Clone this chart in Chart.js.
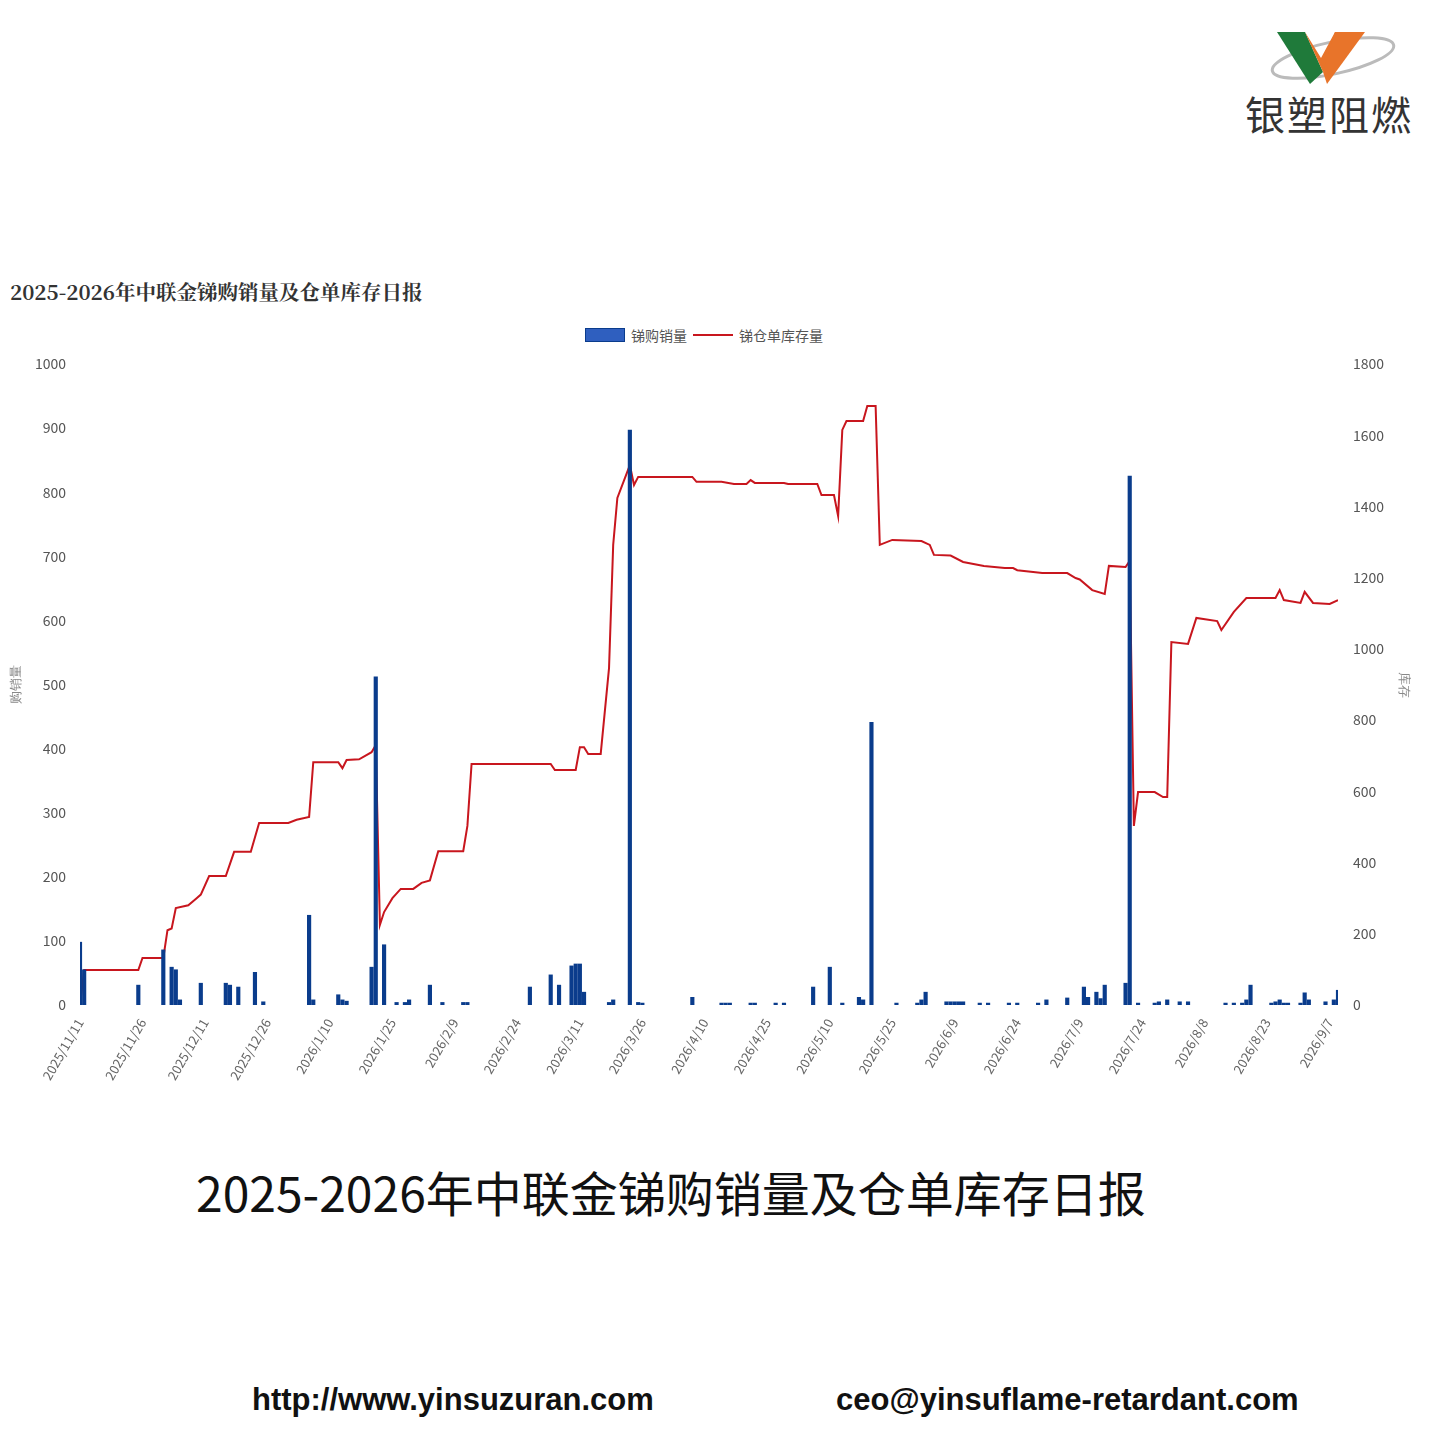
<!DOCTYPE html>
<html><head><meta charset="utf-8">
<script src="https://cdn.jsdelivr.net/npm/chart.js@4/dist/chart.umd.min.js"></script>
<style>
body{margin:0;width:1440px;height:1440px;background:#fff;position:relative;font-family:"Noto Sans CJK SC",sans-serif;overflow:hidden}
#wrap{position:absolute;left:0;top:318px;width:1440px;height:800px}
.t{position:absolute;white-space:nowrap}
</style></head><body>
<svg class="t" style="left:1265px;top:22px" width="135" height="70" viewBox="0 0 135 70">
<ellipse cx="68" cy="36" rx="62" ry="16" fill="none" stroke="#bbb" stroke-width="3" transform="rotate(-12 68 36)"/>
<polygon points="12,10 40,10 58,50 45,62" fill="#1f7a3a"/>
<polygon points="40,10 58,50 90,10 70,10 56,36" fill="#e8742a"/>
<polygon points="70,10 100,10 62,62 58,50" fill="#e8742a"/>
</svg>
<div class="t" style="left:1245px;top:84px;font-size:40px;color:#333;letter-spacing:2px">银塑阻燃</div>
<div class="t" style="left:10px;top:276px;font-size:20.5px;font-weight:bold;color:#333;font-family:'Noto Serif CJK SC','Noto Sans CJK SC',serif">2025-2026年中联金锑购销量及仓单库存日报</div>
<div class="t" style="left:585px;top:325px;font-size:14px;color:#555;display:flex;align-items:center">
 <span style="display:inline-block;width:38px;height:12px;background:#2f5fbf;border:1px solid #0a3c8c;margin-right:6px"></span>锑购销量
 <span style="display:inline-block;width:40px;height:2px;background:#c8161e;margin:0 6px 0 6px"></span>锑仓单库存量</div>
<div class="t" style="left:196px;top:1156px;font-size:48px;color:#111">2025-2026年中联金锑购销量及仓单库存日报</div>
<div class="t" style="left:252px;top:1382px;font-size:31px;font-weight:bold;font-family:'Liberation Sans',Arial;color:#111">http://www.yinsuzuran.com</div>
<div class="t" style="left:836px;top:1382px;font-size:31px;font-weight:bold;font-family:'Liberation Sans',Arial;color:#111">ceo@yinsuflame-retardant.com</div>
<div id="wrap"><canvas id="c" width="1440" height="800"></canvas></div>
<script>
const startDate = [2025,10,11];
const lineDays = [0,1,14,15,20,21,22,23,26,28,29,31,35,37,41,43,50,52,55,56,62,63,64,67,70,71,72,73,75,77,80,82,84,86,92,93,94,113,114,119,120,121,122,125,127,128,129,132,133,134,147,148,154,157,160,161,162,169,170,177,178,181,182,183,184,188,189,191,192,195,202,204,205,209,212,217,222,224,225,231,237,239,240,243,246,247,251,252,253,254,258,260,261,262,266,268,273,274,277,280,287,288,289,293,294,296,300,302];
const lineVals = [0,98,98,132,132,210,215,272,280,300,310,362,362,430,430,511,511,520,528,682,682,665,688,690,710,730,225,261,300,326,326,343,350,432,432,503,677,677,660,660,724,724,705,705,946,1292,1424,1516,1460,1483,1483,1469,1469,1463,1463,1474,1466,1466,1463,1463,1432,1432,1373,1615,1640,1640,1682,1682,1292,1306,1303,1292,1264,1262,1244,1233,1227,1227,1221,1213,1213,1199,1195,1165,1154,1233,1230,1247,503,598,598,584,584,1019,1014,1087,1078,1053,1104,1143,1143,1165,1137,1129,1160,1129,1126,1137];
const barDays = [0,1,14,20,22,23,24,29,35,36,38,42,44,55,56,62,63,64,70,71,73,76,78,79,84,87,92,93,108,113,115,118,119,120,121,127,128,132,134,135,147,154,155,156,161,162,167,169,176,180,183,187,188,190,196,201,202,203,208,209,210,211,212,216,218,223,225,230,232,237,241,242,244,245,246,251,252,254,258,259,261,264,266,275,277,279,280,281,286,287,288,289,290,293,294,295,299,301,302];
const barVals = [98,55,31,86,59,55,8,34,34,31,28,51,5,140,8,16,8,6,59,512,94,4,4,8,31,4,4,4,28,47,31,61,64,64,20,4,8,897,4,3,12,3,3,3,3,3,3,3,28,59,3,12,8,441,3,3,8,20,5,5,5,5,5,3,3,3,3,3,8,11,28,12,20,10,31,34,825,3,3,5,8,5,5,3,3,3,8,31,3,5,8,3,3,3,19,8,5,8,23,8,45,40,4];
const yLeftTicks = [0,100,200,300,400,500,600,700,800,900,1000];
const yRightTicks = [0,200,400,600,800,1000,1200,1400,1600,1800];
function dayLabel(d){const t=new Date(Date.UTC(startDate[0],startDate[1],startDate[2]+d));return t.getUTCFullYear()+'/'+(t.getUTCMonth()+1)+'/'+t.getUTCDate();}
const tickFont={family:"'Noto Sans CJK SC',sans-serif",size:14};
new Chart(document.getElementById('c'),{
 data:{datasets:[
  {type:'bar',label:'锑购销量',data:barDays.map((d,i)=>({x:d,y:barVals[i]})),backgroundColor:'#0a3c8c',borderColor:'#0a3c8c',barThickness:3.5,yAxisID:'y',order:0},
  {type:'line',label:'锑仓单库存量',data:lineDays.map((d,i)=>({x:d,y:lineVals[i]})),borderColor:'#c8161e',backgroundColor:'#c8161e',borderWidth:2,pointRadius:0,tension:0,yAxisID:'y1',order:1}
 ]},
 options:{responsive:false,animation:false,maintainAspectRatio:false,
  layout:{padding:{left:5,right:25,top:46,bottom:0}},
  plugins:{legend:{display:false},tooltip:{enabled:false}},
  scales:{
   x:{type:'linear',offset:false,min:0,max:302,grid:{display:false,offset:false},border:{display:false},
      afterBuildTicks:a=>{a.ticks=[];for(let d=0;d<=300;d+=15)a.ticks.push({value:d});},
      afterFit:s=>{s.height=113;s.paddingLeft=0;s.paddingRight=0;},
      ticks:{callback:v=>dayLabel(v),maxRotation:60,minRotation:60,color:'#666',font:{family:tickFont.family,size:13},autoSkip:false}},
   y:{position:'left',min:0,max:1000,grid:{display:false},border:{display:false},
      afterBuildTicks:a=>{a.ticks=yLeftTicks.map(v=>({value:v}));},
      afterFit:s=>{s.width=75;},
      ticks:{color:'#555',font:tickFont,padding:6,callback:v=>String(v)},
      title:{display:true,text:'购销量',color:'#888',font:{size:13}}},
   y1:{position:'right',min:0,max:1800,grid:{display:false},border:{display:false},
      afterBuildTicks:a=>{a.ticks=yRightTicks.map(v=>({value:v}));},
      afterFit:s=>{s.width=77;},
      ticks:{color:'#555',font:tickFont,padding:7,callback:v=>String(v)},
      title:{display:true,text:'库存',color:'#888',font:{size:13}}}
  }}
});
</script>
</body></html>
